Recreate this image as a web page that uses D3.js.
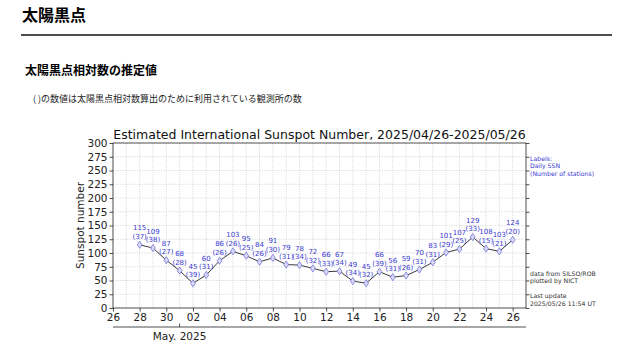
<!DOCTYPE html>
<html>
<head>
<meta charset="utf-8">
<script src="https://cdn.jsdelivr.net/npm/d3@7"></script>
<style>
  body { margin: 0; background: #fff; }
  .page-title { font-family: "Noto Sans CJK JP", sans-serif; font-weight: bold; }
  .mpl { font-family: "DejaVu Sans", sans-serif; }
  .axis path { display: none; }
  .axis line { stroke: #222; stroke-width: 0.8; }
  .axis text { font-family: "DejaVu Sans", sans-serif; font-size: 10.5px; fill: #222; }
  .grid line { stroke: #b8b8b8; stroke-width: 0.6; stroke-dasharray: 1,1.4; }
</style>
</head>
<body>
<svg id="chart"></svg>
<script>
// daily estimated SSN, 2025/04/28 .. 2025/05/26
const dates = ["2025-04-28","2025-04-29","2025-04-30","2025-05-01","2025-05-02","2025-05-03","2025-05-04",
  "2025-05-05","2025-05-06","2025-05-07","2025-05-08","2025-05-09","2025-05-10","2025-05-11","2025-05-12",
  "2025-05-13","2025-05-14","2025-05-15","2025-05-16","2025-05-17","2025-05-18","2025-05-19","2025-05-20",
  "2025-05-21","2025-05-22","2025-05-23","2025-05-24","2025-05-25","2025-05-26"];
const ssn = [115,109,87,68,45,60,86,103,95,84,91,79,78,72,66,67,49,45,66,56,59,70,83,101,107,129,108,103,124];
const stations = [37,38,27,28,39,31,26,26,25,26,30,31,34,32,33,34,34,32,39,31,26,31,31,29,25,33,15,21,20];
const yTicks = [0,25,50,75,100,125,150,175,200,225,250,275,300];
const xDomain = ["2025-04-26","2025-05-27"];

class sunspotChart {
    constructor(_config, _data) {
        this.config = {
            parentElement: _config.parentElement,
            containerWidth: _config.containerWidth || 630,
            containerHeight: _config.containerHeight || 354,
            margin: _config.margin || {top: 143, right: 104, bottom: 46, left: 113}
        }
        this.data = _data;
        this.initVis();
    }

    initVis() {
        let vis = this;
        vis.width = vis.config.containerWidth - vis.config.margin.left - vis.config.margin.right;
        vis.height = vis.config.containerHeight - vis.config.margin.top - vis.config.margin.bottom;

        vis.svg = d3.select(vis.config.parentElement)
            .attr('width', vis.config.containerWidth)
            .attr('height', vis.config.containerHeight);

        // page headings
        vis.svg.append('text').attr('class', 'page-title')
            .attr('x', 22).attr('y', 21).style('font-size', '16px').text('太陽黒点');
        vis.svg.append('line')
            .attr('x1', 21).attr('x2', 612).attr('y1', 35).attr('y2', 35)
            .attr('stroke', '#111').attr('stroke-width', 1.5);
        vis.svg.append('text').attr('class', 'page-title')
            .attr('x', 25).attr('y', 75).style('font-size', '12px').text('太陽黒点相対数の推定値');
        vis.svg.append('text')
            .attr('x', 33).attr('y', 102)
            .style('font-family', '"Noto Sans CJK JP", sans-serif').style('font-size', '9px').attr('fill', '#222')
            .text('( )の数値は太陽黒点相対数算出のために利用されている観測所の数');

        vis.chart = vis.svg.append('g')
            .attr('transform', `translate(${vis.config.margin.left},${vis.config.margin.top})`);

        vis.xScale = d3.scaleTime()
            .domain(xDomain.map(d => new Date(d + "T00:00:00")))
            .range([0, vis.width]);

        vis.yScale = d3.scaleLinear()
            .domain([0, 300])
            .range([vis.height, 0]);

        vis.xAxis = d3.axisBottom(vis.xScale)
            .ticks(d3.timeDay.filter(d => (d3.timeDay.count(new Date("2025-04-26T00:00:00"), d)) % 2 === 0))
            .tickFormat(d3.timeFormat("%d"))
            .tickSize(3.5)
            .tickPadding(2);

        vis.yAxis = d3.axisLeft(vis.yScale)
            .tickValues(yTicks)
            .tickSize(3.5)
            .tickPadding(2);

        vis.yAxisRight = d3.axisRight(vis.yScale)
            .tickValues(yTicks)
            .tickSize(3.5)
            .tickFormat('');

        vis.updateVis();
    }

    updateVis() {
        let vis = this;
        vis.points = vis.data.dates.map((d, i) => ({
            date: new Date(d + "T00:00:00"),
            value: vis.data.ssn[i],
            n: vis.data.stations[i]
        }));
        vis.renderVis();
    }

    renderVis() {
        let vis = this;

        // grid: every day vertical, every 25 horizontal
        vis.chart.append('g').attr('class', 'grid')
            .selectAll('line')
            .data(d3.timeDay.range(vis.xScale.domain()[0], vis.xScale.domain()[1]).slice(1))
            .join('line')
            .attr('x1', d => vis.xScale(d)).attr('x2', d => vis.xScale(d))
            .attr('y1', 0).attr('y2', vis.height);
        vis.chart.append('g').attr('class', 'grid')
            .selectAll('line')
            .data(yTicks.slice(1, -1))
            .join('line')
            .attr('x1', 0).attr('x2', vis.width)
            .attr('y1', d => vis.yScale(d)).attr('y2', d => vis.yScale(d));

        // frame
        vis.chart.append('rect')
            .attr('width', vis.width).attr('height', vis.height)
            .attr('fill', 'none').attr('stroke', '#222').attr('stroke-width', 0.8);

        vis.chart.append('g').attr('class', 'axis')
            .attr('transform', `translate(0,${vis.height})`)
            .call(vis.xAxis);
        vis.chart.append('g').attr('class', 'axis').call(vis.yAxis);
        vis.chart.append('g').attr('class', 'axis')
            .attr('transform', `translate(${vis.width},0)`)
            .call(vis.yAxisRight);

        // month axis below
        let may1 = new Date("2025-05-01T00:00:00");
        let mg = vis.chart.append('g').attr('transform', `translate(0,${vis.height + 19})`);
        mg.append('line').attr('x1', 0).attr('x2', vis.width).attr('stroke', '#222').attr('stroke-width', 0.8);
        mg.append('line').attr('x1', vis.xScale(may1)).attr('x2', vis.xScale(may1))
            .attr('y1', 0).attr('y2', -3.5).attr('stroke', '#222').attr('stroke-width', 0.8);
        mg.append('text').attr('class', 'mpl')
            .attr('x', vis.xScale(may1)).attr('y', 13)
            .attr('text-anchor', 'middle').style('font-size', '10.5px').attr('fill', '#222')
            .text('May. 2025');

        // line + markers
        vis.chart.append('path')
            .datum(vis.points)
            .attr('fill', 'none').attr('stroke', '#222').attr('stroke-width', 0.9)
            .attr('d', d3.line().x(d => vis.xScale(d.date)).y(d => vis.yScale(d.value)));

        vis.chart.selectAll('.marker')
            .data(vis.points)
            .join('path')
            .attr('class', 'marker')
            .attr('transform', d => `translate(${vis.xScale(d.date)},${vis.yScale(d.value)})`)
            .attr('d', 'M0,-3.6L2.4,0L0,3.6L-2.4,0Z')
            .attr('fill', '#d8d8f4').attr('stroke', '#7777dd').attr('stroke-width', 0.8);

        // labels
        let lab = vis.chart.selectAll('.lab')
            .data(vis.points)
            .join('g')
            .attr('class', 'lab mpl')
            .attr('transform', d => `translate(${vis.xScale(d.date)},${vis.yScale(d.value)})`)
            .style('font-size', '7px').attr('fill', '#3a3ad0').attr('text-anchor', 'middle');
        lab.append('text').attr('y', -14.5).text(d => d.value);
        lab.append('text').attr('y', -5.8).text(d => `(${d.n})`);

        // title
        vis.svg.append('text').attr('class', 'mpl')
            .attr('x', vis.config.margin.left + vis.width / 2).attr('y', 139)
            .attr('text-anchor', 'middle').style('font-size', '12.5px').attr('fill', '#111')
            .text('Estimated International Sunspot Number, 2025/04/26-2025/05/26');

        vis.svg.append('text').attr('class', 'mpl')
            .attr('transform', `translate(84,${vis.config.margin.top + vis.height / 2}) rotate(-90)`)
            .attr('text-anchor', 'middle').style('font-size', '10.5px').attr('fill', '#222')
            .text('Sunspot number');

        // side notes
        let sx = vis.config.margin.left + vis.width + 4;
        let note = (lines, y0, color) => {
            lines.forEach((t, i) => {
                vis.svg.append('text').attr('class', 'mpl')
                    .attr('x', sx).attr('y', y0 + i * 7.5)
                    .style('font-size', '6.2px').attr('fill', color).text(t);
            });
        };
        note(['Labels:', 'Daily SSN', '(Number of stations)'], 160.5, '#3a3ad0');
        note(['data from SILSO/ROB', 'plotted by NICT'], 275.5, '#333');
        note(['Last update', '2025/05/26 11:54 UT'], 298.3, '#333');
    }
}

new sunspotChart({parentElement: '#chart'}, {dates, ssn, stations});
</script>
</body>
</html>
